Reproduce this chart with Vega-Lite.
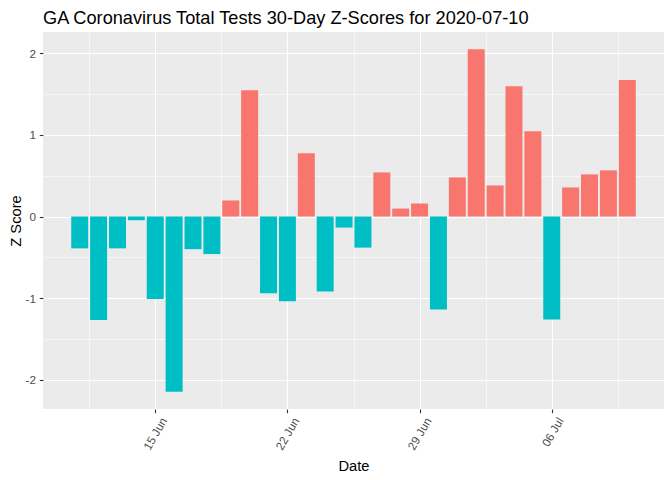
{
  "$schema": "https://vega.github.io/schema/vega-lite/v6.json",
  "width": 621,
  "height": 377,
  "autosize": "none",
  "padding": {"left": 43, "top": 32, "right": 8, "bottom": 71},
  "background": "white",
  "config": {
    "view": {"fill": "#EBEBEB", "stroke": null},
    "font": "Liberation Sans"
  },
  "title": {
    "text": "GA Coronavirus Total Tests 30-Day Z-Scores for 2020-07-10",
    "anchor": "start",
    "frame": "group",
    "fontSize": 18.2,
    "fontWeight": "normal",
    "font": "Liberation Sans",
    "color": "#000000",
    "baseline": "alphabetic",
    "offset": 9.3,
    "dy": 19
  },
  "data": {
    "values": [
      {"date": "2020-06-11", "z": -0.39},
      {"date": "2020-06-12", "z": -1.27},
      {"date": "2020-06-13", "z": -0.39},
      {"date": "2020-06-14", "z": -0.045},
      {"date": "2020-06-15", "z": -1.01},
      {"date": "2020-06-16", "z": -2.15},
      {"date": "2020-06-17", "z": -0.40},
      {"date": "2020-06-18", "z": -0.46},
      {"date": "2020-06-19", "z": 0.197},
      {"date": "2020-06-20", "z": 1.55},
      {"date": "2020-06-21", "z": -0.94},
      {"date": "2020-06-22", "z": -1.04},
      {"date": "2020-06-23", "z": 0.775},
      {"date": "2020-06-24", "z": -0.918},
      {"date": "2020-06-25", "z": -0.135},
      {"date": "2020-06-26", "z": -0.381},
      {"date": "2020-06-27", "z": 0.541},
      {"date": "2020-06-28", "z": 0.098},
      {"date": "2020-06-29", "z": 0.160},
      {"date": "2020-06-30", "z": -1.139},
      {"date": "2020-07-01", "z": 0.480},
      {"date": "2020-07-02", "z": 2.053},
      {"date": "2020-07-03", "z": 0.381},
      {"date": "2020-07-04", "z": 1.598},
      {"date": "2020-07-05", "z": 1.045},
      {"date": "2020-07-06", "z": -1.262},
      {"date": "2020-07-07", "z": 0.357},
      {"date": "2020-07-08", "z": 0.517},
      {"date": "2020-07-09", "z": 0.566},
      {"date": "2020-07-10", "z": 1.673}
    ]
  },
  "mark": {"type": "bar", "width": 17},
  "encoding": {
    "x": {
      "field": "date",
      "type": "temporal",
      "title": "Date",
      "scale": {
        "type": "utc",
        "domain": [1591665552000, 1594507248000],
        "nice": false,
        "padding": 0
      },
      "axis": {
        "values": [1591876800000, 1592179200000, 1592481600000, 1592784000000, 1593086400000, 1593388800000, 1593691200000, 1593993600000, 1594296000000],
        "labelExpr": "utchours(datum.value) === 0 ? utcFormat(datum.value, '%d %b') : ''",
        "labelAngle": -60,
        "labelAlign": "right",
        "labelBaseline": "top",
        "labelPadding": 2.9,
        "labelOffset": 4,
        "labelFontSize": 11.7,
        "labelColor": "#4D4D4D",
        "labelFont": "Liberation Sans",
        "labelOverlap": false,
        "labelFlush": false,
        "domain": false,
        "tickSize": 3.7,
        "tickColor": "#333333",
        "tickWidth": 1.1,
        "tickOpacity": {"condition": {"test": "utchours(datum.value) === 0", "value": 1}, "value": 0},
        "grid": true,
        "gridColor": "#FFFFFF",
        "gridWidth": {"condition": {"test": "utchours(datum.value) === 0", "value": 1.1}, "value": 0.55},
        "titleFontSize": 14.7,
        "titleFont": "Liberation Sans",
        "titleFontWeight": "normal",
        "titleColor": "#000000",
        "titleBaseline": "alphabetic",
        "titleAlign": "center",
        "titleX": 310.5,
        "titleY": 61
      }
    },
    "y": {
      "field": "z",
      "type": "quantitative",
      "title": "Z Score",
      "scale": {"domain": [-2.36, 2.263], "nice": false, "zero": false},
      "axis": {
        "values": [-2, -1.5, -1, -0.5, 0, 0.5, 1, 1.5, 2],
        "labelExpr": "datum.value % 1 === 0 ? toString(datum.value) : ''",
        "labelFontSize": 11.7,
        "labelColor": "#4D4D4D",
        "labelFont": "Liberation Sans",
        "labelPadding": 3.8,
        "domain": false,
        "tickSize": 3.7,
        "tickColor": "#333333",
        "tickWidth": 1.1,
        "tickOpacity": {"condition": {"test": "datum.value % 1 === 0", "value": 1}, "value": 0},
        "grid": true,
        "gridColor": "#FFFFFF",
        "gridWidth": {"condition": {"test": "datum.value % 1 === 0", "value": 1.1}, "value": 0.55},
        "titleFontSize": 14.7,
        "titleFont": "Liberation Sans",
        "titleFontWeight": "normal",
        "titleColor": "#000000",
        "titleAngle": -90,
        "titleBaseline": "alphabetic",
        "titleAlign": "center",
        "titleX": -23,
        "titleY": 188.5
      }
    },
    "y2": {"datum": 0},
    "color": {
      "condition": {"test": "datum.z > 0", "value": "#F8766D"},
      "value": "#00BFC4"
    }
  }
}
